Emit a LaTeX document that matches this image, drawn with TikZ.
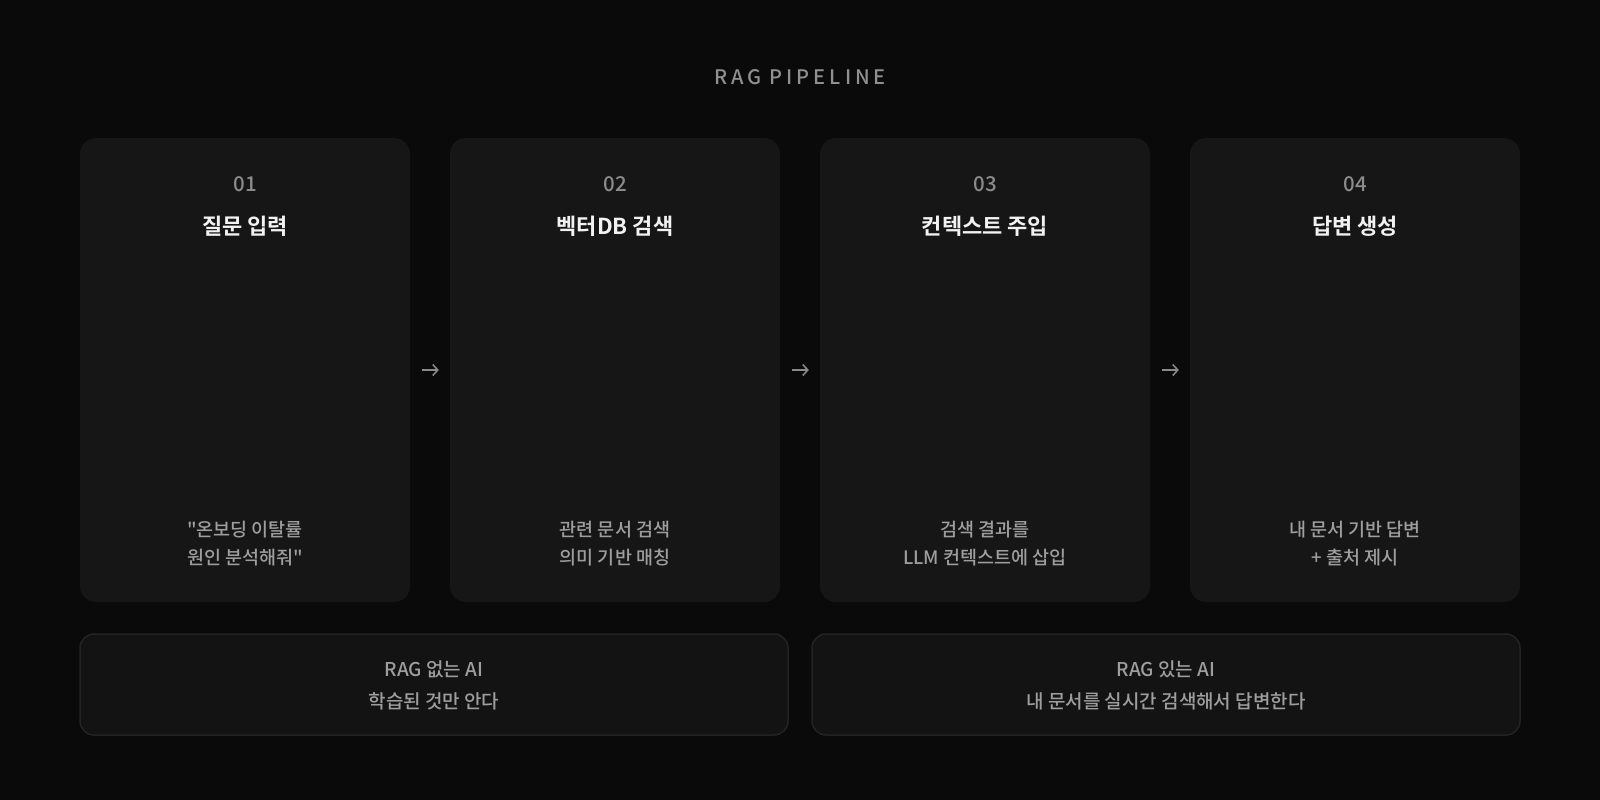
\documentclass[tikz,border=0pt]{standalone}
\usepackage{fontspec}
\newfontfamily\kr{Noto Sans CJK KR Medium}[BoldFont={Noto Sans CJK KR Bold}]
\newfontfamily\trackfont[LetterSpace=20]{Noto Sans CJK KR Medium}
\usetikzlibrary{arrows.meta}
\definecolor{bg}{HTML}{0A0A0A}
\definecolor{cardfill}{HTML}{161616}
\definecolor{boxfill}{HTML}{131313}
\definecolor{boxline}{HTML}{232323}
\definecolor{titlecol}{HTML}{F2F2F2}
\definecolor{numcol}{HTML}{8C8C8C}
\definecolor{desccol}{HTML}{9E9E9E}
\definecolor{headcol}{HTML}{909090}
\definecolor{arrcol}{HTML}{8A8A8A}
\tikzset{
  cardbox/.style={fill=cardfill, draw=none, rounded corners=16pt, minimum width=330pt, minimum height=464pt, inner sep=0pt},
  sumbox/.style={fill=boxfill, draw=boxline, line width=1.5pt, rounded corners=14pt, minimum width=708pt, minimum height=101pt, inner sep=0pt},
  numtxt/.style={text=numcol, font=\kr\fontsize{20.5}{24}\selectfont, inner sep=0pt},
  titletxt/.style={text=titlecol, font=\kr\fontsize{22}{26}\selectfont\bfseries, inner sep=0pt},
  desctxt/.style={text=desccol, font=\kr\fontsize{18.5}{28}\selectfont, align=center, inner sep=0pt},
  sumtxt/.style={text=desccol, font=\kr\fontsize{19}{32}\selectfont, align=center, inner sep=0pt},
  headtxt/.style={text=headcol, font=\trackfont\fontsize{20}{24}\selectfont, inner sep=0pt},
  arr/.style={draw=arrcol, line width=1.5pt, -{Straight Barb[length=5pt,width=11pt]}}
}
\begin{document}
\begin{tikzpicture}[x=1pt,y=-1pt]
\useasboundingbox (0,0) rectangle (1600,800);
\fill[bg] (0,0) rectangle (1600,800);

\node[headtxt] (head) at (800,77) {RAG PIPELINE};

\node[cardbox] (c1) at (245,370) {};
\node[cardbox] (c2) at (615,370) {};
\node[cardbox] (c3) at (985,370) {};
\node[cardbox] (c4) at (1355,370) {};

\node[numtxt] (n1) at (245,184) {01};
\node[numtxt] (n2) at (615,184) {02};
\node[numtxt] (n3) at (985,184) {03};
\node[numtxt] (n4) at (1355,184) {04};

\node[titletxt] (t1) at (245,226) {질문 입력};
\node[titletxt] (t2) at (615,226) {벡터DB 검색};
\node[titletxt] (t3) at (985,226) {컨텍스트 주입};
\node[titletxt] (t4) at (1355,226) {답변 생성};

\node[desctxt] (d1) at (245,544) {"온보딩 이탈률\\원인 분석해줘"};
\node[desctxt] (d2) at (615,544) {관련 문서 검색\\의미 기반 매칭};
\node[desctxt] (d3) at (985,544) {검색 결과를\\LLM 컨텍스트에 삽입};
\node[desctxt] (d4) at (1355,544) {내 문서 기반 답변\\+ 출처 제시};

\draw[arr] ([xshift=12pt]c1.east) -- ([xshift=-11pt]c2.west);
\draw[arr] ([xshift=12pt]c2.east) -- ([xshift=-11pt]c3.west);
\draw[arr] ([xshift=12pt]c3.east) -- ([xshift=-11pt]c4.west);

\node[sumbox] (b1) at (434,684.5) {};
\node[sumbox] (b2) at (1166,684.5) {};
\node[sumtxt] (s1) at (434,685) {RAG 없는 AI\\학습된 것만 안다};
\node[sumtxt] (s2) at (1166,685) {RAG 있는 AI\\내 문서를 실시간 검색해서 답변한다};
\end{tikzpicture}
\end{document}
